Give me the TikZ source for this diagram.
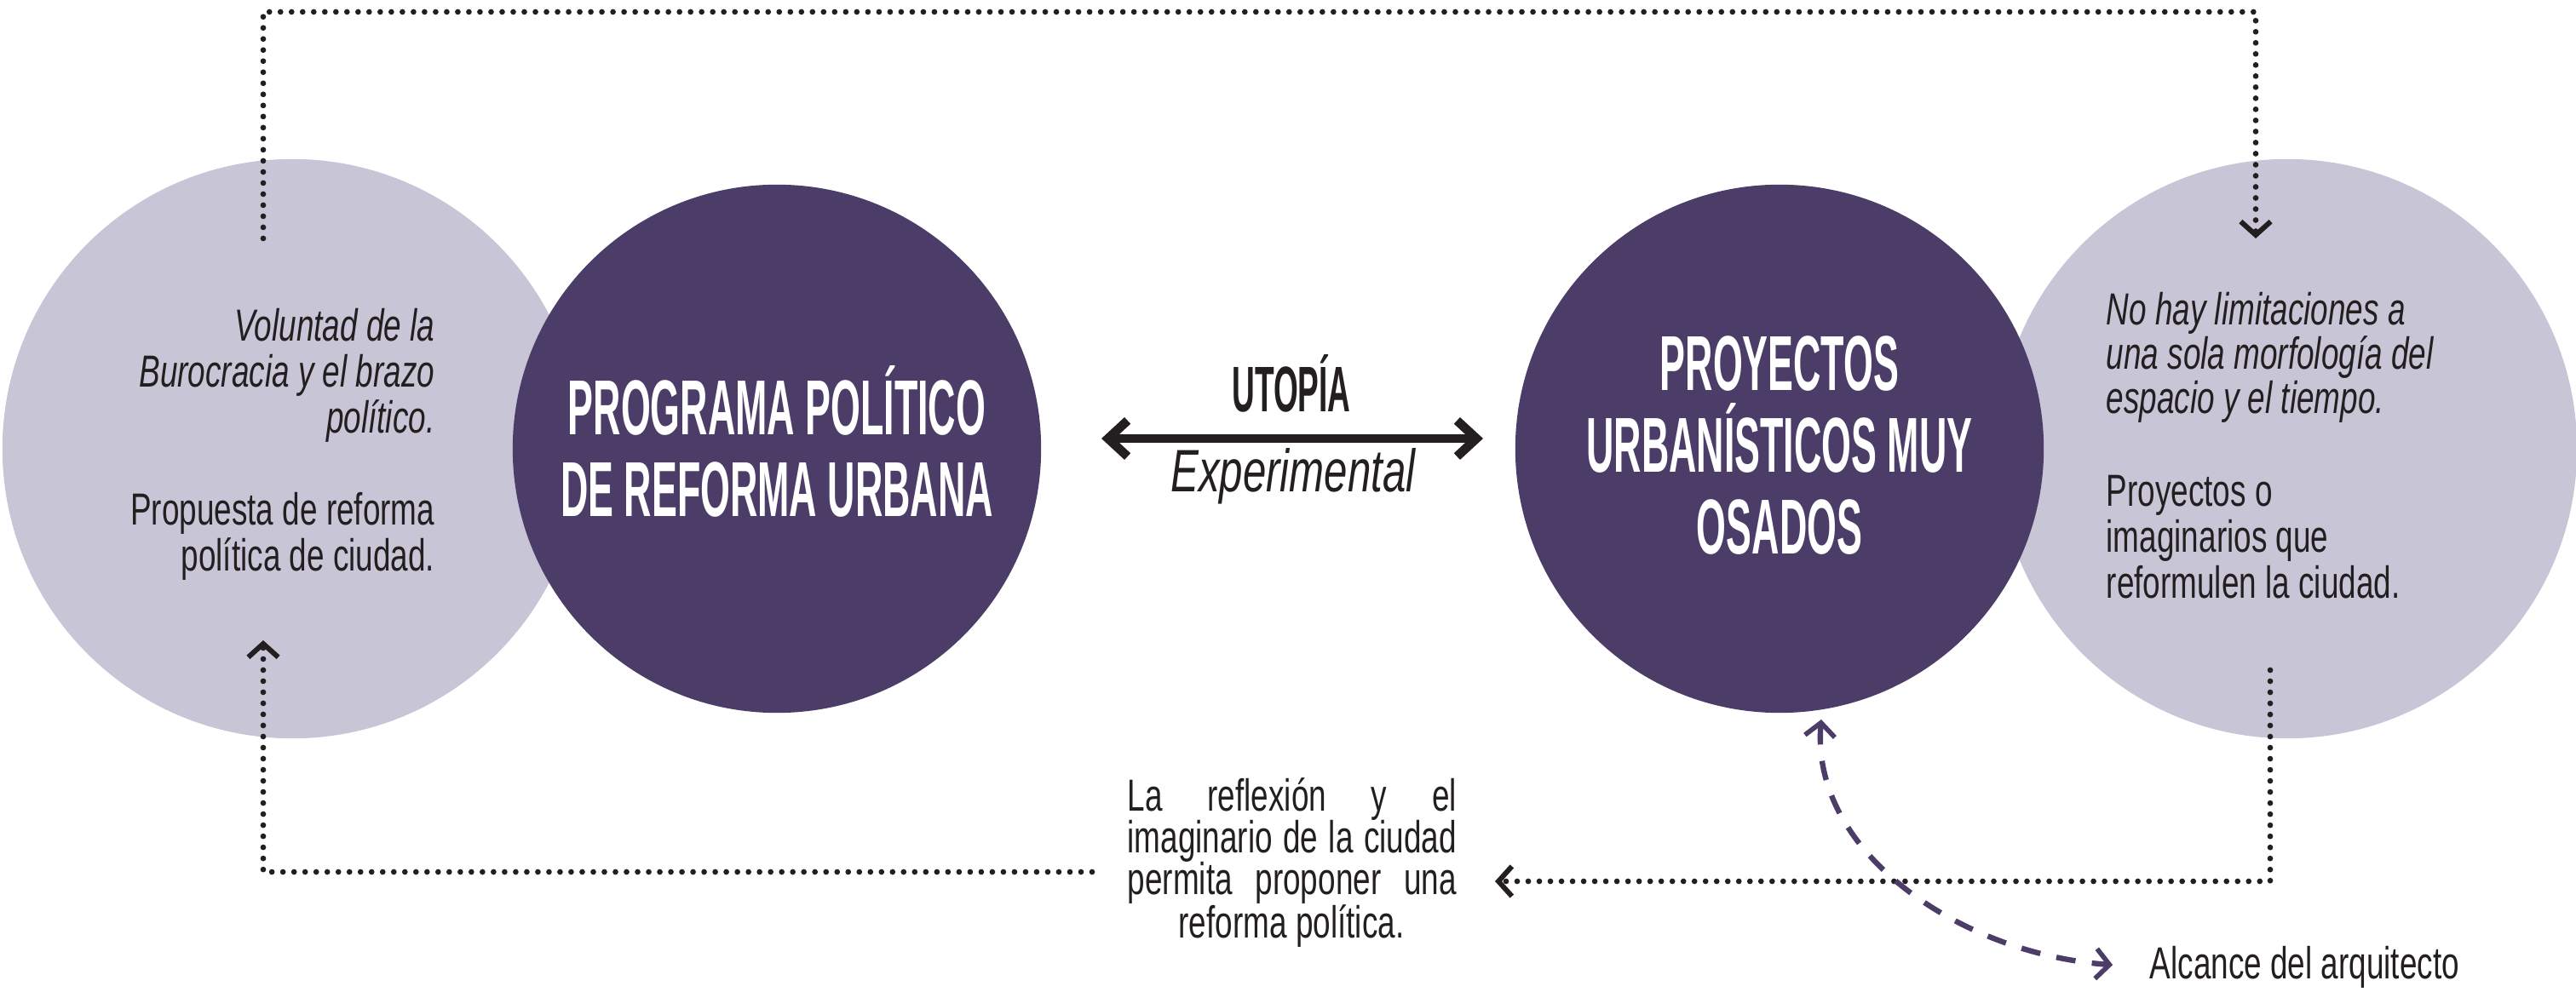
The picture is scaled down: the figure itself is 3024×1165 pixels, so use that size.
\documentclass[tikz,border=0pt]{standalone}
\usepackage{fontspec}
\setmainfont{Liberation Sans}
\newfontfamily\bodyf[FakeStretch=0.70]{Liberation Sans}
\newfontfamily\headf[FakeStretch=0.49]{Liberation Sans}
\usetikzlibrary{arrows.meta}
\definecolor{darkpurple}{HTML}{4B3C68}
\definecolor{lightlav}{HTML}{C8C5D6}
\definecolor{ink}{HTML}{231F20}
\begin{document}
\begin{tikzpicture}[x=0.01cm,y=-0.01cm,
  lightc/.style={circle,fill=lightlav,minimum size=6.8cm,inner sep=0pt},
  darkc/.style={circle,fill=darkpurple,minimum size=6.2cm,inner sep=0pt},
  head/.style={inner sep=0pt,text=white,font=\headf\bfseries\fontsize{26}{30}\selectfont},
  bodyit/.style={inner sep=0pt,text=ink,font=\bodyf\itshape\fontsize{15}{18}\selectfont},
  bodyup/.style={inner sep=0pt,text=ink,font=\bodyf\fontsize{15}{18}\selectfont},
  dotline/.style={draw=ink,line width=1.9pt,line cap=round,dash pattern=on 0pt off 3.7pt},
  dotarrow/.style={dotline,-{Straight Barb[length=4.5pt,width=10pt,line width=1.7pt]}},
  bigarrow/.style={draw=ink,line width=3pt,{Straight Barb[length=6.5pt,width=12pt]}-{Straight Barb[length=6.5pt,width=12pt]}},
  dasharrow/.style={draw=darkpurple,line width=1.8pt,dash pattern=on 6.5pt off 5.5pt,
     {Straight Barb[length=4.5pt,width=10pt,line width=1.6pt]}-{Straight Barb[length=4.5pt,width=10pt,line width=1.6pt]}}
]
\useasboundingbox (0,0) rectangle (3024,1165);

% circles
\node[lightc] (LL) at (343,527) {};
\node[lightc] (RL) at (2685,527) {};
\node[darkc] (LD) at (912,527) {};
\node[darkc] (RD) at (2089,527) {};

% headings
\node[head,anchor=base] (h1a) at (912,511) {PROGRAMA POLÍTICO};
\node[head,anchor=base] (h1b) at (912,607) {DE REFORMA URBANA};
\node[head,anchor=base] (h2a) at (2089,459) {PROYECTOS};
\node[head,anchor=base] (h2b) at (2089,555) {URBANÍSTICOS MUY};
\node[head,anchor=base] (h2c) at (2089,651) {OSADOS};

% left text
\node[bodyit,anchor=base east] (l1) at (511,401) {Voluntad de la};
\node[bodyit,anchor=base east] (l2) at (511,455) {Burocracia y el brazo};
\node[bodyit,anchor=base east] (l3) at (511,509) {político.};
\node[bodyup,anchor=base east] (l4) at (511,617) {Propuesta de reforma};
\node[bodyup,anchor=base east] (l5) at (511,671) {política de ciudad.};

% right text
\node[bodyit,anchor=base west] (r1) at (2472,382) {No hay limitaciones a};
\node[bodyit,anchor=base west] (r2) at (2472,434) {una sola morfología del};
\node[bodyit,anchor=base west] (r3) at (2472,486) {espacio y el tiempo.};
\node[bodyup,anchor=base west] (r4) at (2472,595) {Proyectos o};
\node[bodyup,anchor=base west] (r5) at (2472,649) {imaginarios que};
\node[bodyup,anchor=base west] (r6) at (2472,703) {reformulen la ciudad.};

% centre
\node[inner sep=0pt,text=ink,font=\headf\bfseries\fontsize{21.5}{25}\selectfont,anchor=base] (uto) at (1516,484) {UTOPÍA};
\node[inner sep=0pt,text=ink,font=\bodyf\itshape\fontsize{20}{24}\selectfont,anchor=base] (exp) at (1518,578) {Experimental};
\coordinate (ua) at (1293,515);
\coordinate (ub) at (1741,515);
\draw[bigarrow] (ua) -- (ub);

% bottom text
\node[bodyup,anchor=base west] (b1) at (1323,953) {\makebox[3.86cm][s]{La reflexión y el}};
\node[bodyup,anchor=base west] (b2) at (1323,1002) {\makebox[3.86cm][s]{imaginario de la ciudad}};
\node[bodyup,anchor=base west] (b3) at (1323,1051) {\makebox[3.86cm][s]{permita proponer una}};
\node[bodyup,anchor=base] (b4) at (1516,1102) {reforma política.};

\node[bodyup,anchor=base west] (alc) at (2523,1150) {Alcance del arquitecto};

% dotted connectors
\coordinate (tl) at (309,280);
\coordinate (tr) at (2648,280);
\draw[dotarrow] (tl) -- (309,14) -- (2648,14) -- (tr);

\coordinate (br) at (2665,787);
\coordinate (bra) at (1755,1035);
\draw[dotarrow] (br) -- (2665,1035) -- (bra);

\coordinate (bl) at (1282,1024);
\coordinate (bla) at (309,752);
\draw[dotarrow] (bl) -- (309,1024) -- (bla);

% dashed purple curve
\coordinate (cu) at (2138,845);
\draw[dasharrow,shorten >=0.43cm] (cu) .. controls (2125,1000) and (2300,1120) .. (alc.west);
\end{tikzpicture}
\end{document}
